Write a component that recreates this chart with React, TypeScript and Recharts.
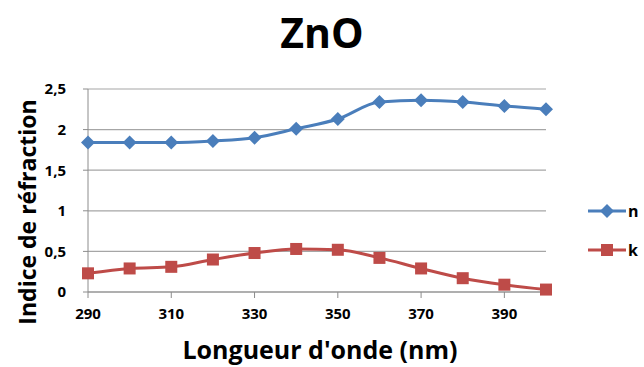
import React from 'react'
import { LineChart, Line, XAxis, YAxis, CartesianGrid } from 'recharts'

const wavelengths = [290, 300, 310, 320, 330, 340, 350, 360, 370, 380, 390, 400]
const nValues = [1.84, 1.84, 1.84, 1.86, 1.9, 2.01, 2.13, 2.34, 2.36, 2.34, 2.29, 2.25]
const kValues = [0.23, 0.29, 0.31, 0.4, 0.48, 0.53, 0.52, 0.42, 0.29, 0.17, 0.09, 0.03]
const xTicks = [290, 310, 330, 350, 370, 390]
const yTicks = [0, 0.5, 1, 1.5, 2, 2.5]

const BLUE = '#4a7ebb'
const RED = '#be4b48'
const FONT = '"Open Sans", Lato, sans-serif'

const data = wavelengths.map((w, i) => ({ w, n: nValues[i], k: kValues[i] }))

const Diamond = (props: any) => {
  const { cx, cy } = props
  if (cx == null || cy == null) return null
  const r = 7
  return <polygon points={`${cx},${cy - r} ${cx + r},${cy} ${cx},${cy + r} ${cx - r},${cy}`} fill={BLUE} />
}

const Square = (props: any) => {
  const { cx, cy } = props
  if (cx == null || cy == null) return null
  const s = 12
  return <rect x={cx - s / 2} y={cy - s / 2} width={s} height={s} fill={RED} />
}

function LegendItem({ top, color, label, marker }: { top: number; color: string; label: string; marker: 'd' | 's' }) {
  return (
    <div style={{ position: 'absolute', left: 585, top: top - 11, height: 22, display: 'flex', alignItems: 'center' }}>
      <svg width={42} height={22} style={{ display: 'block' }}>
        <line x1={3} y1={11} x2={41} y2={11} stroke={color} strokeWidth={3} />
        {marker === 'd' ? (
          <polygon points='22,4 29,11 22,18 15,11' fill={color} />
        ) : (
          <rect x={16} y={5} width={12} height={12} fill={color} />
        )}
      </svg>
      <span style={{ fontSize: 16, fontWeight: 'bold', lineHeight: '22px', marginLeft: 1 }}>{label}</span>
    </div>
  )
}

export default function App() {
  return (
    <div style={{ position: 'absolute', left: 0, top: 0, width: 644, height: 367, background: '#fff', fontFamily: FONT }}>
      <div style={{ position: 'absolute', left: 0, width: 644, top: 4, textAlign: 'center', fontSize: 41, fontWeight: 'bold', paddingRight: 4 }}>
        ZnO
      </div>
      <LineChart width={644} height={367} data={data} margin={{ top: 89, right: 98, left: 58, bottom: 45 }}>
        <CartesianGrid vertical={false} stroke='#a6a6a6' strokeWidth={1.2} />
        <XAxis
          dataKey='w'
          type='number'
          domain={[290, 400]}
          ticks={xTicks}
          height={30}
          interval={0}
          tickSize={6}
          tickMargin={10}
          tick={{ fill: '#000', fontSize: 15, fontWeight: 'bold', fontFamily: FONT }}
          axisLine={{ stroke: '#8c8c8c' }}
          tickLine={{ stroke: '#8c8c8c' }}
        />
        <YAxis
          type='number'
          domain={[0, 2.5]}
          ticks={yTicks}
          width={30}
          tickSize={5}
          tickMargin={17}
          tickFormatter={(v: number) => String(v).replace('.', ',')}
          tick={{ fill: '#000', fontSize: 15, fontWeight: 'bold', fontFamily: FONT }}
          axisLine={{ stroke: '#8c8c8c' }}
          tickLine={{ stroke: '#8c8c8c' }}
        />
        <Line type='monotone' dataKey='n' stroke={BLUE} strokeWidth={3} dot={<Diamond />} isAnimationActive={false} />
        <Line type='monotone' dataKey='k' stroke={RED} strokeWidth={3} dot={<Square />} isAnimationActive={false} />
      </LineChart>
      <div
        style={{
          position: 'absolute',
          left: 27,
          top: 212,
          transform: 'translate(-50%, -50%) rotate(-90deg)',
          whiteSpace: 'nowrap',
          fontSize: 23,
          fontWeight: 'bold',
        }}
      >
        Indice de réfraction
      </div>
      <div style={{ position: 'absolute', left: 0, width: 644, top: 332, textAlign: 'center', fontSize: 25, fontWeight: 'bold' }}>
        <span style={{ position: 'relative', left: -2 }}>Longueur d'onde (nm)</span>
      </div>
      <LegendItem top={211} color={BLUE} label='n' marker='d' />
      <LegendItem top={250} color={RED} label='k' marker='s' />
    </div>
  )
}
